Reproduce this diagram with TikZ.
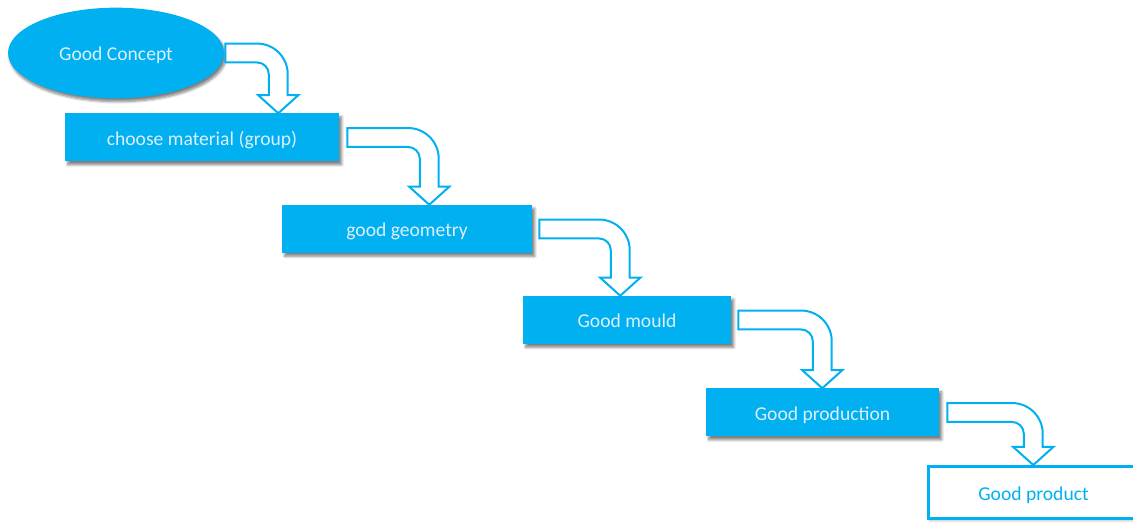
\documentclass[tikz,border=0pt]{standalone}
\usepackage{fontspec}
\setmainfont{Carlito}
\usetikzlibrary{calc,shapes.geometric,shadows.blur}
\definecolor{stepblue}{HTML}{00B0F0}
\definecolor{steptext}{HTML}{DCEFFC}
\definecolor{paper}{HTML}{FFFFFF}

% sizes of the bent arrows
\newcommand{\arrband}{7.1pt}
\newcommand{\arrout}{23pt}
\newcommand{\arrin}{8.8pt}
\newcommand{\arrheadw}{15pt}
\newcommand{\arrheadh}{13.5pt}

% bent arrow: from, to, gap, reach (px from the east side of "from")
\newcommand{\bentarrow}[4]{%
  \draw[bentflow] let \p1=($(#1.east)+(#3,0)$), \p2=(#2.north), \p3=($(#1.east)+(#4,0)$) in
    (\x1,\y1+\arrband) -- (\x3+\arrband-\arrout,\y1+\arrband)
    arc[start angle=90, end angle=0, radius=\arrout]
    -- (\x3+\arrband,\y2+\arrheadh) -- (\x3+\arrheadw,\y2+\arrheadh) -- (\x3,\y2)
    -- (\x3-\arrheadw,\y2+\arrheadh) -- (\x3-\arrband,\y2+\arrheadh)
    -- (\x3-\arrband,\y1-\arrband-\arrin)
    arc[start angle=0, end angle=90, radius=\arrin]
    -- (\x1,\y1-\arrband) -- cycle;
}

\begin{document}
\begin{tikzpicture}[
  x=0.75pt, y=0.75pt,
  font=\fontsize{14.7}{17}\selectfont,
  stepbox/.style={fill=stepblue, text=steptext, minimum height=36pt, inner sep=0pt,
    text height=12.5pt, text depth=0.5pt,
    blur shadow={shadow xshift=2pt, shadow yshift=-2.5pt, shadow blur steps=6, shadow opacity=50}},
  conceptbox/.style={ellipse, fill=stepblue, text=steptext, minimum width=162pt, minimum height=68pt,
    inner sep=0pt, text height=11.5pt, text depth=0.5pt,
    blur shadow={shadow xshift=1.5pt, shadow yshift=-2.5pt, shadow blur steps=6, shadow opacity=50}},
  resultbox/.style={draw=stepblue, line width=2.25pt, fill=paper, text=stepblue, minimum width=172.5pt,
    minimum height=39pt, inner sep=0pt, text height=12pt, text depth=0.5pt,
    blur shadow={shadow xshift=1pt, shadow yshift=-1.5pt, shadow blur steps=5, shadow opacity=30}},
  bentflow/.style={draw=stepblue, fill=paper, line width=1.5pt, line join=miter}
]
\useasboundingbox (0,0) rectangle (1133,-523);

\node[conceptbox] (concept) at (116,-53) {Good Concept};
\node[stepbox, minimum width=205.5pt] (material) at (202,-137.5) {choose material (group)};
\node[stepbox, minimum width=187.5pt] (geometry) at (407,-229) {good geometry};
\node[stepbox, minimum width=156pt] (mould) at (627,-320) {Good mould};
\node[stepbox, minimum width=174.75pt] (production) at (822.5,-412.5) {Good production};
\node[resultbox] (product) at (1043.5,-492.5) {Good product\hspace*{15pt}};

\bentarrow{concept}{material}{1}{54}
\bentarrow{material}{geometry}{8}{90}
\bentarrow{geometry}{mould}{7}{88}
\bentarrow{mould}{production}{7}{91}
\bentarrow{production}{product}{8}{94}
\end{tikzpicture}
\end{document}
